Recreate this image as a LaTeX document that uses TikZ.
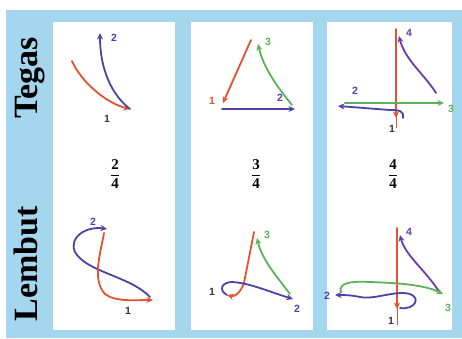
\documentclass[tikz,border=0pt]{standalone}
\usepackage{fontspec}
\setmainfont{Liberation Serif}
\setsansfont{Liberation Sans}
\usetikzlibrary{arrows.meta}
\definecolor{bgblue}{RGB}{164,214,238}
\definecolor{cred}{RGB}{226,84,48}
\definecolor{cblue}{RGB}{78,66,168}
\definecolor{cgreen}{RGB}{92,178,88}
\definecolor{cpurple}{RGB}{110,60,170}
\definecolor{clab}{RGB}{60,50,70}
\begin{document}
\begin{tikzpicture}[x=1pt,y=-1pt,
  stroke/.style={line width=1.8pt, line cap=round, -{Stealth[length=6.5pt,width=6pt]}},
  lab/.style={font=\sffamily\bfseries\fontsize{10.5}{10.5}\selectfont, inner sep=0pt},
  side/.style={font=\bfseries\fontsize{34}{34}\selectfont, rotate=90, anchor=base, inner sep=0pt},
  fracnode/.style={font=\fontsize{15}{15}\selectfont, inner sep=0pt}]
\useasboundingbox (0,0) rectangle (462,338);
\fill[white] (0,0) rectangle (462,338);
\fill[bgblue] (6,10) rectangle (462,338);
\fill[white] (53,22) rectangle (175,330);
\fill[white] (191,22) rectangle (313,330);
\fill[white] (327,22) rectangle (452,330);
% side labels
\node[side] (tegas) at (37,78) {Tegas};
\node[side] (lembut) at (37,264) {Lembut};
% fractions
\node[fracnode] (f2) at (115,174) {$\displaystyle\frac{\mathbf{2}}{\mathbf{4}}$};
\node[fracnode] (f3) at (256,174) {$\displaystyle\frac{\mathbf{3}}{\mathbf{4}}$};
\node[fracnode] (f4) at (393,174) {$\displaystyle\frac{\mathbf{4}}{\mathbf{4}}$};

% ---- panel 1 tegas (2/4)
\coordinate (a1s) at (72,61);
\coordinate (a1e) at (130,109);
\coordinate (a2e) at (100,33);
\draw[stroke, cred] (a1s) .. controls (80,80) and (105,103) .. (a1e);
\draw[stroke, cblue] (a1e) .. controls (112,95) and (100,70) .. (a2e);
\node[lab, text=cblue] (a2l) at (114,38) {2};
\node[lab, text=clab] (a1l) at (107,119) {1};

% ---- panel 1 lembut
\coordinate (b2s) at (150,297);
\coordinate (b2e) at (107,229);
\coordinate (b1s) at (104,233);
\coordinate (b1e) at (153,300);
\draw[stroke, cblue] (b2s) .. controls (130,276) and (86,272) .. (75,252) .. controls (68,236) and (88,226) .. (b2e);
\draw[stroke, cred] (b1s) .. controls (100,255) and (92,280) .. (105,294) .. controls (115,302) and (135,300) .. (b1e);
\node[lab, text=cblue] (b2l) at (93,222) {2};
\node[lab, text=clab] (b1l) at (128,311) {1};

% ---- panel 2 tegas (3/4)
\coordinate (c1s) at (251,40);
\coordinate (c1e) at (223,103);
\coordinate (c2s) at (222,109);
\coordinate (c2e) at (295,109);
\coordinate (c3s) at (292,105);
\coordinate (c3e) at (258,44);
\draw[stroke, cred] (c1s) -- (c1e);
\draw[stroke, cblue] (c2s) -- (c2e);
\draw[stroke, cgreen] (c3s) .. controls (280,90) and (264,70) .. (c3e);
\node[lab, text=cred] (c1l) at (212,101) {1};
\node[lab, text=cblue] (c2l) at (280,98) {2};
\node[lab, text=cgreen] (c3l) at (268,42) {3};

% ---- panel 2 lembut
\coordinate (d1s) at (254,232);
\coordinate (d1e) at (227,295);
\coordinate (d2e) at (293,299);
\coordinate (d3s) at (290,294);
\coordinate (d3e) at (257,238);
\draw[stroke, cred] (d1s) -- (244,283) .. controls (240,294) and (234,297) .. (d1e);
\draw[stroke, cblue] (d1e) .. controls (218,290) and (222,282) .. (232,282) .. controls (250,283) and (270,292) .. (d2e);
\draw[stroke, cgreen] (d3s) .. controls (278,278) and (262,260) .. (d3e);
\node[lab, text=clab] (d1l) at (212,292) {1};
\node[lab, text=cblue] (d2l) at (297,309) {2};
\node[lab, text=cgreen] (d3l) at (267,235) {3};

% ---- panel 3 tegas (4/4)
\coordinate (e1s) at (396,29);
\coordinate (e1e) at (396,118);
\coordinate (e2s) at (403,118);
\coordinate (e2e) at (338,106);
\coordinate (e3s) at (345,103);
\coordinate (e3e) at (444,103);
\coordinate (e4s) at (436,93);
\coordinate (e4e) at (399,36);
\draw[cred, line width=1pt] (396,115) -- (396,128);
\draw[stroke, cred] (e1s) -- (e1e);
\draw[stroke, cgreen] (e3s) -- (e3e);
\draw[stroke, cblue] (e2s) .. controls (404,111) and (400,110) .. (390,110) -- (e2e);
\draw[stroke, cpurple] (e4s) .. controls (425,75) and (405,60) .. (e4e);
\node[lab, text=clab] (e1l) at (392,129) {1};
\node[lab, text=cblue] (e2l) at (355,91) {2};
\node[lab, text=cgreen] (e3l) at (451,109) {3};
\node[lab, text=cpurple] (e4l) at (409,33) {4};

% ---- panel 3 lembut
\coordinate (g1s) at (397,228);
\coordinate (g1e) at (397,309);
\coordinate (g2s) at (400,308);
\coordinate (g2e) at (335,295);
\coordinate (g3s) at (341,292);
\coordinate (g3e) at (443,294);
\coordinate (g4s) at (438,290);
\coordinate (g4e) at (400,235);
\draw[cred, line width=1pt] (397,305) -- (397,325);
\draw[stroke, cred] (g1s) -- (g1e);
\draw[stroke, cgreen] (g3s) .. controls (338,283) and (350,281) .. (370,282) .. controls (400,283) and (425,285) .. (g3e);
\draw[stroke, cblue] (g2s) .. controls (415,310) and (421,298) .. (410,294) .. controls (395,290) and (375,300) .. (360,297) .. controls (350,295) and (345,295) .. (g2e);
\draw[stroke, cpurple] (g4s) .. controls (425,270) and (405,255) .. (g4e);
\node[lab, text=clab] (g1l) at (391,321) {1};
\node[lab, text=cblue] (g2l) at (327,296) {2};
\node[lab, text=cgreen] (g3l) at (448,308) {3};
\node[lab, text=cpurple] (g4l) at (409,232) {4};
\end{tikzpicture}
\end{document}
